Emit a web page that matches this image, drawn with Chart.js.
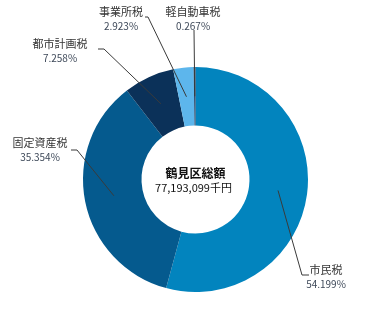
<!DOCTYPE html>
<html lang="ja">
<head>
<meta charset="utf-8">
<title>鶴見区 税目別内訳</title>
<script src="https://cdn.jsdelivr.net/npm/chart.js@4/dist/chart.umd.min.js"></script>
<style>
  html, body { margin: 0; padding: 0; background: #fff; }
  #wrap { position: relative; width: 375px; height: 326px; }
</style>
</head>
<body>
<div id="wrap"><canvas id="taxChart"></canvas></div>
<script>
// 税目と構成比 (%)
const taxNames = ['市民税', '固定資産税', '都市計画税', '事業所税', '軽自動車税'];
const taxShares = [54.199, 35.354, 7.258, 2.923, 0.267];
const sliceColors = ['#0284be', '#055a8e', '#0b3159', '#5db6ec', '#1d3a5f'];
const centerTitle = '鶴見区総額';
const centerTotal = '77,193,099千円';

// ラベル位置と引き出し線の折れ点
const labelSpots = [
  { x: 326, y: 270, line: [[309, 275], [302, 275]] },
  { x: 40,  y: 143, line: [[71, 150], [77, 150]] },
  { x: 60,  y: 44,  line: [[98, 49], [104, 49]] },
  { x: 121, y: 12,  line: [[145, 17], [148, 17]] },
  { x: 193, y: 12,  line: [[194, 30]] }
];

const JP_FONT = '"Noto Sans CJK JP", "Noto Sans", sans-serif';

const calloutPlugin = {
  id: 'callouts',
  afterDatasetsDraw(chart) {
    const ctx = chart.ctx;
    const arcs = chart.getDatasetMeta(0).data;
    ctx.save();

    // 引き出し線
    arcs.forEach((arc, i) => {
      const p = arc.getProps(['x', 'y', 'startAngle', 'endAngle', 'innerRadius', 'outerRadius']);
      const mid = (p.startAngle + p.endAngle) / 2;
      const r = (p.innerRadius + p.outerRadius) / 2;
      const ex = p.x + Math.cos(mid) * r;
      const ey = p.y + Math.sin(mid) * r;
      const pts = labelSpots[i].line;
      ctx.beginPath();
      ctx.moveTo(pts[0][0], pts[0][1]);
      for (let k = 1; k < pts.length; k++) ctx.lineTo(pts[k][0], pts[k][1]);
      ctx.lineTo(ex, ey);
      ctx.strokeStyle = '#3a3a3a';
      ctx.lineWidth = 1;
      ctx.stroke();
    });

    // 税目名と構成比
    ctx.textAlign = 'center';
    ctx.textBaseline = 'middle';
    taxNames.forEach((name, i) => {
      const s = labelSpots[i];
      ctx.fillStyle = '#333333';
      ctx.font = '11px ' + JP_FONT;
      ctx.fillText(name, s.x, s.y);
      ctx.fillStyle = '#3d4858';
      ctx.font = '10px ' + JP_FONT;
      ctx.fillText(taxShares[i].toFixed(3) + '%', s.x, s.y + 14);
    });

    // 中央の総額
    const c = arcs[0];
    ctx.fillStyle = '#111111';
    ctx.font = 'bold 12px ' + JP_FONT;
    ctx.fillText(centerTitle, c.x, c.y - 6);
    ctx.font = '11px ' + JP_FONT;
    ctx.fillText(centerTotal, c.x - 2, c.y + 8);
    ctx.restore();
  }
};

new Chart(document.getElementById('taxChart'), {
  type: 'doughnut',
  data: {
    labels: taxNames,
    datasets: [{
      data: taxShares,
      backgroundColor: sliceColors,
      borderWidth: 0
    }]
  },
  options: {
    responsive: true,
    maintainAspectRatio: false,
    animation: false,
    cutout: '48%',
    layout: { padding: { top: 67, bottom: 34, left: 83, right: 67 } },
    plugins: {
      legend: { display: false },
      tooltip: { enabled: false }
    }
  },
  plugins: [calloutPlugin]
});
</script>
</body>
</html>
